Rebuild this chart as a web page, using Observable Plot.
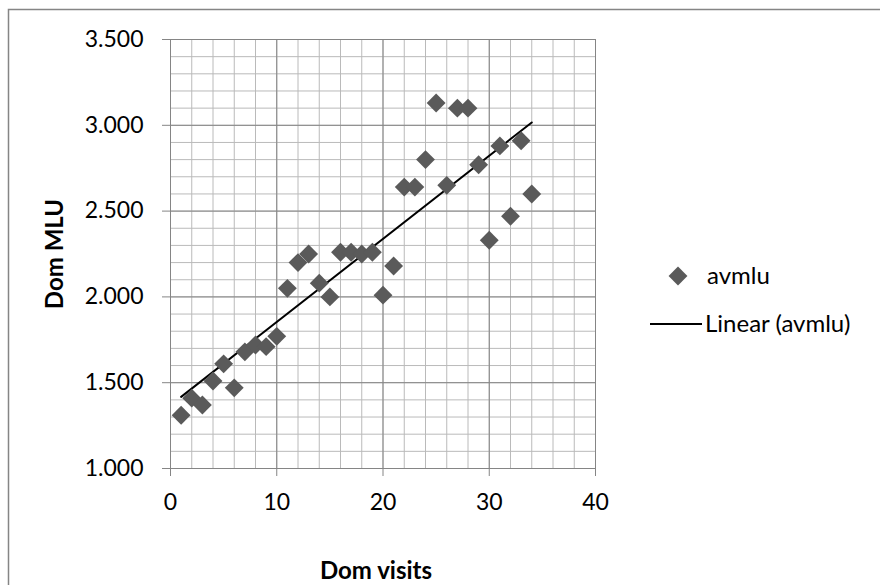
<!DOCTYPE html>
<html><head><meta charset="utf-8">
<script src="https://cdn.jsdelivr.net/npm/d3@7"></script>
<script src="https://cdn.jsdelivr.net/npm/@observablehq/plot@0.6"></script>
<style>
html,body{margin:0;padding:0;background:#fff;}
#chart{width:880px;height:585px;overflow:hidden;}
</style>
</head><body><div id="chart"></div>
<script>
// Data
const visits = [1,2,3,4,5,6,7,8,9,10,11,12,13,14,15,16,17,18,19,20,21,22,23,24,25,26,27,28,29,30,31,32,33,34];
const avmlu  = [1.31,1.41,1.37,1.51,1.61,1.47,1.68,1.72,1.71,1.77,2.05,2.20,2.25,2.08,2.00,2.26,2.26,2.25,2.26,2.01,2.18,2.64,2.64,2.80,3.13,2.65,3.10,3.10,2.77,2.33,2.88,2.47,2.91,2.60];
const xTicks = [0,10,20,30,40];
const yTicks = [1.0,1.5,2.0,2.5,3.0,3.5];
const xMinor = [0,2,4,6,8,10,12,14,16,18,20,22,24,26,28,30,32,34,36,38,40];
const yMinor = [1.0,1.1,1.2,1.3,1.4,1.5,1.6,1.7,1.8,1.9,2.0,2.1,2.2,2.3,2.4,2.5,2.6,2.7,2.8,2.9,3.0,3.1,3.2,3.3,3.4,3.5];
const seriesName = "avmlu";
const trendName = "Linear (avmlu)";
const xTitle = "Dom visits";
const yTitle = "Dom MLU";

const data = visits.map((v, i) => ({visits: v, mlu: avmlu[i]}));
const FONT = "Lato, 'Open Sans', sans-serif";
const MINOR = "#bababa", MAJOR = "#858585", MARK = "#5a5a5a";

const plot = Plot.plot({
  width: 880, height: 585,
  marginLeft: 170, marginRight: 285, marginTop: 39, marginBottom: 117,
  style: {fontFamily: FONT, fontSize: "23px", color: "#000", background: "#fff", overflow: "visible"},
  x: {domain: [0, 40]},
  y: {domain: [1, 3.5]},
  marks: [
    Plot.gridX(xMinor, {stroke: MINOR, strokeOpacity: 1, strokeWidth: 1}),
    Plot.gridY(yMinor, {stroke: MINOR, strokeOpacity: 1, strokeWidth: 1}),
    Plot.gridX(xTicks, {stroke: MAJOR, strokeOpacity: 1, strokeWidth: 1}),
    Plot.gridY(yTicks, {stroke: MAJOR, strokeOpacity: 1, strokeWidth: 1}),
    Plot.axisX(xTicks, {tickSize: 8, tickPadding: 17, stroke: MAJOR, tickFormat: d => String(d), label: null, fill: "#000"}),
    Plot.axisY(yTicks, {tickSize: 8, tickPadding: 19, stroke: MAJOR, tickFormat: d => d.toFixed(3), label: null, fill: "#000"}),
    Plot.linearRegressionY(data, {x: "visits", y: "mlu", stroke: "#000", strokeWidth: 2, ci: 0}),
    Plot.dot(data, {x: "visits", y: "mlu", symbol: "diamond2", r: 8.5, fill: MARK, stroke: "none"})
  ]
});

const svg = d3.select(plot);
// chart border
svg.append("rect").attr("x", 8.5).attr("y", 9.5).attr("width", 900).attr("height", 600)
  .attr("fill", "none").attr("stroke", MAJOR).attr("stroke-width", 1.5);
// axis titles
svg.append("text").attr("x", 376).attr("y", 579).attr("text-anchor", "middle")
  .attr("font-family", FONT).attr("font-size", 24).attr("font-weight", "bold").attr("fill", "#000").text(xTitle);
svg.append("text").attr("transform", "translate(63,254) rotate(-90)").attr("text-anchor", "middle")
  .attr("font-family", FONT).attr("font-size", 24).attr("font-weight", "bold").attr("fill", "#000").text(yTitle);
// legend
const sym = d3.symbol(d3.symbolDiamond2, 8.5 * 8.5 * Math.PI);
svg.append("path").attr("d", sym()).attr("transform", "translate(678,276)").attr("fill", MARK);
svg.append("text").attr("x", 707).attr("y", 284).attr("text-anchor", "start")
  .attr("font-family", FONT).attr("font-size", 24).attr("fill", "#000").text(seriesName);
svg.append("line").attr("x1", 650).attr("x2", 702).attr("y1", 324).attr("y2", 324).attr("stroke", "#000").attr("stroke-width", 2);
svg.append("text").attr("x", 705).attr("y", 332).attr("text-anchor", "start")
  .attr("font-family", FONT).attr("font-size", 24).attr("fill", "#000").text(trendName);

document.getElementById("chart").appendChild(plot);
</script>
</body></html>
